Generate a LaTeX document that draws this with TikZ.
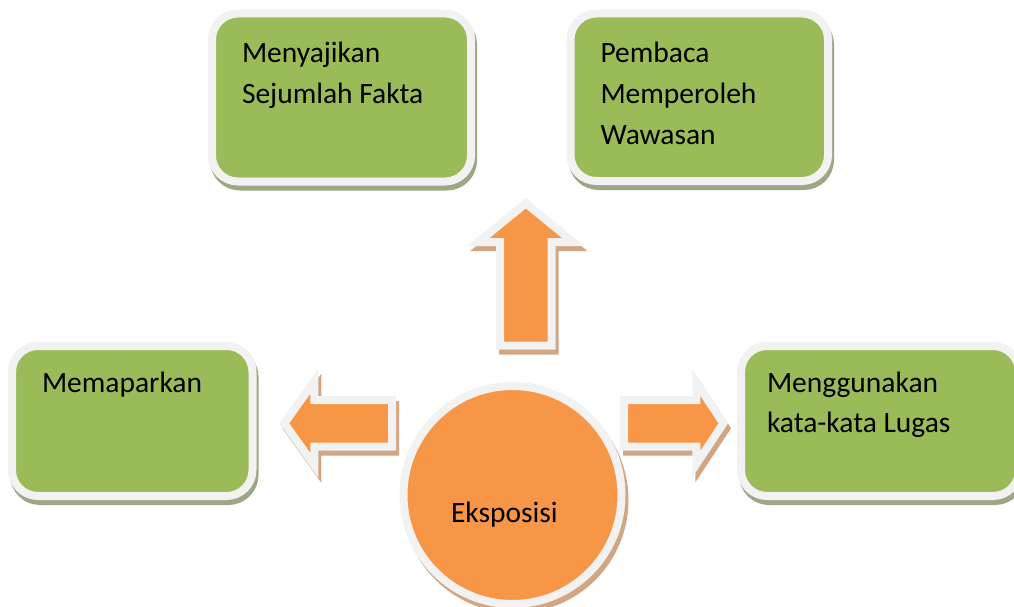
\documentclass[tikz,border=0pt]{standalone}
\usepackage{fontspec}
\setmainfont{Carlito}
\usetikzlibrary{shapes.arrows, shadows}
\definecolor{exgreen}{HTML}{9BBB59}
\definecolor{exorange}{HTML}{F79646}
\definecolor{exrim}{HTML}{F2F2F2}
\definecolor{exgshadow}{HTML}{9DA786}
\definecolor{exoshadow}{HTML}{D3A683}

\begin{document}
\begin{tikzpicture}[
  x=1pt, y=-1pt,
  topic/.style={rectangle, rounded corners=26pt, draw=exrim, fill=exgreen,
                line width=8pt, align=flush left, inner xsep=30pt, inner ysep=0pt,
                outer sep=0pt, font=\fontsize{29.5}{41}\selectfont,
                drop shadow={shadow xshift=2pt, shadow yshift=-5pt,
                             fill=exgshadow, draw=exgshadow, opacity=1}},
  core/.style={circle, draw=exrim, fill=exorange, line width=8pt,
               minimum size=218pt, inner sep=0pt, outer sep=0pt, align=flush left,
               font=\fontsize{29.5}{41}\selectfont,
               drop shadow={shadow xshift=3pt, shadow yshift=-5pt,
                            fill=exoshadow, draw=exoshadow, opacity=1}},
  flow/.style={single arrow, draw=exrim, fill=exorange, line width=8pt,
               minimum width=0pt, outer sep=0pt, anchor=tail,
               drop shadow={shadow xshift=3pt, shadow yshift=-5pt,
                            fill=exoshadow, draw=exoshadow, opacity=1}}
]
\useasboundingbox (0,0) rectangle (1014,607);
\clip (0,0) rectangle (1014,607);

% Green topic boxes
\node[topic, text width=199pt, text height=49.5pt, text depth=118.5pt]
  (fakta) at (341.5,97.5) {Menyajikan\\Sejumlah Fakta};
\node[topic, text width=197.5pt, text height=49.2pt, text depth=118.3pt]
  (wawasan) at (699.25,97.25) {Pembaca\\Memperoleh\\Wawasan};
\node[topic, text width=180.5pt, text height=46.5pt, text depth=103.5pt]
  (paparan) at (132.25,421) {Memaparkan};
\node[topic, inner xsep=26pt, text width=226pt, text height=46.5pt, text depth=103.5pt,
      font=\fontsize{29.5}{40}\selectfont]
  (lugas) at (880,421) {Menggunakan\\kata-kata Lugas};

% Central circle
\node[core, text width=123pt, text height=60pt, text depth=6pt]
  (eksposisi) at (512.5,495) {Eksposisi};

% Block arrows
\node[flow, shape border rotate=90, inner sep=21.75pt,
      single arrow head extend=21.75pt, single arrow tip angle=101.6,
      minimum height=142.2pt] (naik) at (525.75,345.5) {};
\node[flow, shape border rotate=180, inner sep=19.25pt,
      single arrow head extend=18.85pt, single arrow tip angle=109,
      minimum height=107.7pt] (kiri) at (392,423.3) {};
\node[flow, inner sep=19.25pt,
      single arrow head extend=17.45pt, single arrow tip angle=113,
      minimum height=99.3pt] (kanan) at (624,423.3) {};

\end{tikzpicture}
\end{document}
